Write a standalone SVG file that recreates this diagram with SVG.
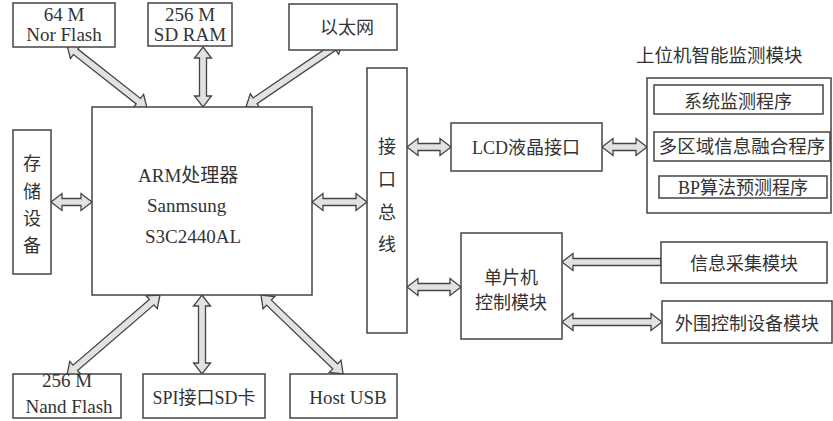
<svg xmlns="http://www.w3.org/2000/svg" width="833" height="421" viewBox="0 0 833 421">
<style>
.box{fill:#fff;stroke:#444;stroke-width:1.5}
.t{font-family:"Liberation Serif","Noto Sans CJK SC",serif;font-size:18px;fill:#333}
.l{font-size:19px}
.c{text-anchor:middle}
.arr{fill:#e2e2e2;stroke:#444;stroke-width:1.3;stroke-linejoin:miter}
</style>
<rect width="833" height="421" fill="#fff"/>
<g id="connectors">
<path class="arr" transform="translate(67,45) rotate(38.2)" d="M0,0 L11,-8.5 L11,-3.5 L90.8,-3.5 L90.8,-8.5 L101.8,0 L90.8,8.5 L90.8,3.5 L11,3.5 L11,8.5 Z"/>
<path class="arr" transform="translate(203,47) rotate(90)" d="M0,0 L11,-8.5 L11,-3.5 L49,-3.5 L49,-8.5 L60,0 L49,8.5 L49,3.5 L11,3.5 L11,8.5 Z"/>
<path class="arr" transform="translate(246,107) rotate(-34.2)" d="M0,0 L11,-8.5 L11,-3.5 L106.3,-3.5 L106.3,-8.5 L117.3,0 L106.3,8.5 L106.3,3.5 L11,3.5 L11,8.5 Z"/>
<path class="arr" transform="translate(51,202)" d="M0,0 L11,-8.5 L11,-3.5 L30,-3.5 L30,-8.5 L41,0 L30,8.5 L30,3.5 L11,3.5 L11,8.5 Z"/>
<path class="arr" transform="translate(312,202)" d="M0,0 L11,-8.5 L11,-3.5 L44,-3.5 L44,-8.5 L55,0 L44,8.5 L44,3.5 L11,3.5 L11,8.5 Z"/>
<path class="arr" transform="translate(407,147)" d="M0,0 L11,-8.5 L11,-3.5 L33,-3.5 L33,-8.5 L44,0 L33,8.5 L33,3.5 L11,3.5 L11,8.5 Z"/>
<path class="arr" transform="translate(602,147)" d="M0,0 L11,-8.5 L11,-3.5 L34,-3.5 L34,-8.5 L45,0 L34,8.5 L34,3.5 L11,3.5 L11,8.5 Z"/>
<path class="arr" transform="translate(407,287)" d="M0,0 L11,-8.5 L11,-3.5 L43,-3.5 L43,-8.5 L54,0 L43,8.5 L43,3.5 L11,3.5 L11,8.5 Z"/>
<path class="arr" transform="translate(562,262)" d="M0,0 L11,-8.5 L11,-3.5 L99,-3.5 L99,3.5 L11,3.5 L11,8.5 Z"/>
<path class="arr" transform="translate(562,322)" d="M0,0 L11,-8.5 L11,-3.5 L89,-3.5 L89,-8.5 L100,0 L89,8.5 L89,3.5 L11,3.5 L11,8.5 Z"/>
<path class="arr" transform="translate(160,295) rotate(139.3)" d="M0,0 L11,-8.5 L11,-3.5 L111.7,-3.5 L111.7,-8.5 L122.7,0 L111.7,8.5 L111.7,3.5 L11,3.5 L11,8.5 Z"/>
<path class="arr" transform="translate(202,295) rotate(90)" d="M0,0 L11,-8.5 L11,-3.5 L68,-3.5 L68,-8.5 L79,0 L68,8.5 L68,3.5 L11,3.5 L11,8.5 Z"/>
<path class="arr" transform="translate(261,295) rotate(43.9)" d="M0,0 L11,-8.5 L11,-3.5 L102.9,-3.5 L102.9,-8.5 L113.9,0 L102.9,8.5 L102.9,3.5 L11,3.5 L11,8.5 Z"/>
</g>
<g id="norflash"><rect class="box" x="13" y="3" width="102" height="44"/><text class="t l c" x="64" y="21">64 M</text><text class="t l c" x="64" y="41">Nor Flash</text></g>
<g id="sdram"><rect class="box" x="148" y="3" width="84" height="43"/><text class="t l c" x="190" y="21">256 M</text><text class="t l c" x="190" y="41">SD RAM</text></g>
<g id="ethernet"><rect class="box" x="289" y="4" width="108" height="46"/><text class="t c" x="347" y="34">以太网</text></g>
<g id="arm"><rect class="box" x="92" y="107" width="220" height="188"/><text class="t l" x="138" y="182">ARM处理器</text><text class="t l" x="147" y="212">Sanmsung</text><text class="t l" x="145" y="243">S3C2440AL</text></g>
<g id="storage"><rect class="box" x="13" y="130" width="38" height="144"/><text class="t c" x="32" y="170">存</text><text class="t c" x="32" y="198">储</text><text class="t c" x="32" y="225">设</text><text class="t c" x="32" y="252">备</text></g>
<g id="bus"><rect class="box" x="367" y="68" width="40" height="265"/><text class="t c" x="387" y="153">接</text><text class="t c" x="387" y="186">口</text><text class="t c" x="387" y="219">总</text><text class="t c" x="387" y="251">线</text></g>
<g id="nandflash"><rect class="box" x="13" y="374" width="108" height="44"/><text class="t l c" x="67" y="387">256 M</text><text class="t l c" x="69" y="413">Nand Flash</text></g>
<g id="spisd"><rect class="box" x="143" y="374" width="122" height="44"/><text class="t c" x="204" y="404">SPI接口SD卡</text></g>
<g id="hostusb"><rect class="box" x="290" y="374" width="107" height="44"/><text class="t l c" x="348" y="404">Host USB</text></g>
<g id="lcd"><rect class="box" x="451" y="123" width="151" height="48"/><text class="t c" x="526" y="154">LCD液晶接口</text></g>
<g id="monitor"><text class="t" x="636" y="62" style="font-size:18.5px">上位机智能监测模块</text><rect class="box" x="647" y="78" width="184" height="135"/>
<rect class="box" x="654" y="85" width="169" height="29"/><text class="t c" x="738" y="108">系统监测程序</text>
<rect class="box" x="654" y="132" width="176" height="29"/><text class="t c" x="742" y="153" style="font-size:18.5px">多区域信息融合程序</text>
<rect class="box" x="659" y="176" width="168" height="22"/><text class="t c" x="743" y="194">BP算法预测程序</text></g>
<g id="mcu"><rect class="box" x="461" y="233" width="101" height="106"/><text class="t c" x="511" y="284">单片机</text><text class="t c" x="511" y="309">控制模块</text></g>
<g id="collect"><rect class="box" x="661" y="242" width="166" height="41"/><text class="t c" x="744" y="270">信息采集模块</text></g>
<g id="periph"><rect class="box" x="662" y="301" width="170" height="42"/><text class="t c" x="747" y="330">外围控制设备模块</text></g>
</svg>
